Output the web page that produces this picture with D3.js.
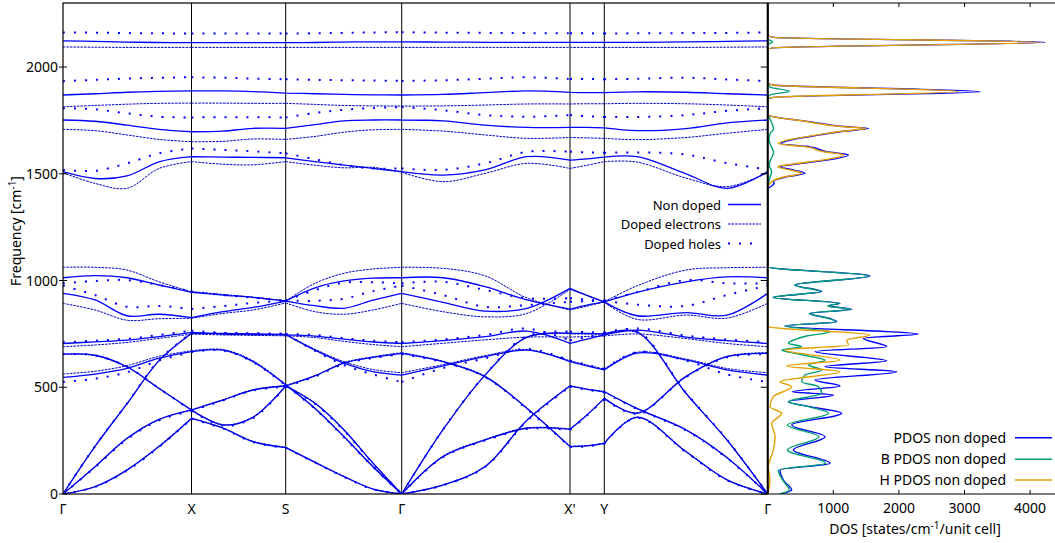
<!DOCTYPE html>
<html>
<head>
<meta charset="utf-8">
<script src="https://cdn.jsdelivr.net/npm/d3@7"></script>
<style>
  body { margin: 0; background: #fff; }
  text { font-family: "Noto Sans", "DejaVu Sans", sans-serif; fill: #000; }
</style>
</head>
<body>
<svg id="chart" width="1055" height="543"></svg>
<script>
// ---- k-path (path length units) and labels ----
const kPath = [0, 32, 64, 96, 128.5, 160, 190, 222.7, 252, 281, 310, 338.7,
               380, 422, 464, 507, 524, 541.3, 574, 623, 664, 704.7];
const symPoints = [0, 128.5, 222.7, 338.7, 507, 541.3, 704.7];
const symLabels = ["Γ", "X", "S", "Γ", "X'", "Y", "Γ"];
const segments = [[0, 4], [4, 7], [7, 11], [11, 15], [15, 17], [17, 21]];
const freqTicks = [0, 500, 1000, 1500, 2000];
const dosTicks = [1000, 2000, 3000, 4000];

// ---- phonon branches, frequency (cm-1) at each k-path sample ----
const nonDoped = [
  [0,34,112,222,354, 308,245,217, 148,81,23,0, 42,128,345,506, 490,479, 400,300,170,0],
  [0,128,261,350,393, 440,487,506, 425,300,144,0, 175,253,308,303, 370,448, 378,550,643,659],
  [0,223,423,625,753, 752,750,748, 674,613,573,557, 600,643,674,620, 600,581, 660,628,581,557],
  [546,562,589,636,667, 674,620,511, 401,268,128,0, 301,557,735,753, 752,750, 760,472,253,0],
  [655,650,596,495,393, 323,359,506, 553,613,640,659, 620,550,401,222, 225,237, 359,198,66,0],
  [705,713,721,737,757, 749,747,745, 740,725,712,705, 718,737,763,706, 725,745, 768,735,718,705],
  [1013,1023,1013,979,945, 932,921,904, 966,998,1011,1013, 1013,971,909,866, 885,900, 945,994,1017,1013],
  [940,909,835,842,826, 854,874,904, 882,870,908,940, 898,857,870,963, 930,900, 835,850,838,940],
  [1510,1478,1490,1556,1580, 1578,1577,1575, 1557,1541,1525,1510, 1494,1518,1580,1564, 1570,1578, 1580,1500,1432,1510],
  [1752,1746,1728,1708,1697, 1700,1713,1713, 1730,1748,1752,1752, 1748,1728,1717,1717, 1717,1715, 1702,1712,1738,1752],
  [1869,1875,1882,1886,1888, 1888,1885,1878, 1875,1872,1870,1869, 1872,1880,1888,1881, 1880,1880, 1884,1882,1875,1869],
  [2123,2120,2117,2115,2114, 2114,2114,2114, 2115,2117,2118,2118, 2117,2116,2116,2116, 2116,2116, 2116,2118,2120,2123]
];

const dopedElectrons = [
  [0,35,114,225,356, 310,247,219, 150,83,24,0, 43,130,348,508, 492,480, 402,302,172,0],
  [0,126,258,348,395, 442,489,508, 427,302,146,0, 177,255,310,305, 372,450, 380,552,645,662],
  [0,222,421,623,751, 751,749,746, 678,620,583,568, 606,648,677,624, 604,585, 664,632,588,568],
  [562,575,601,645,671, 677,624,514, 403,270,130,0, 300,555,733,750, 749,748, 756,470,252,0],
  [655,648,594,493,395, 325,361,508, 555,616,643,662, 622,552,403,224, 227,239, 361,200,67,0],
  [690,698,710,729,749, 745,743,741, 733,715,700,690, 706,722,735,735, 738,740, 750,728,705,690],
  [1062,1062,1049,994,948, 935,922,904, 987,1034,1054,1062, 1057,1022,918,862, 880,900, 975,1049,1060,1062],
  [893,862,814,821,823, 846,862,895, 854,842,862,893, 854,830,846,958, 930,898, 818,838,824,893],
  [1505,1455,1432,1525,1557, 1545,1542,1557, 1540,1528,1530,1507, 1463,1502,1549,1525, 1540,1557, 1555,1480,1440,1505],
  [1708,1702,1682,1661,1650, 1652,1663,1661, 1675,1695,1706,1708, 1700,1682,1666,1670, 1668,1666, 1660,1670,1690,1708],
  [1814,1820,1826,1830,1831, 1831,1830,1830, 1825,1820,1818,1817, 1818,1822,1827,1827, 1828,1828, 1830,1828,1822,1814],
  [2094,2093,2092,2092,2092, 2092,2092,2092, 2092,2092,2092,2092, 2092,2092,2092,2092, 2092,2092, 2092,2092,2093,2094]
];

const dopedHoles = [
  [0,33,110,220,352, 306,243,216, 147,80,22,0, 41,126,342,503, 488,477, 398,298,168,0],
  [0,125,256,345,390, 438,485,503, 422,297,142,0, 173,250,305,300, 368,445, 376,548,640,655],
  [0,224,424,627,755, 754,752,750, 670,604,560,525, 590,635,680,625, 605,585, 665,625,560,525],
  [525,540,570,625,665, 672,618,509, 399,266,126,0, 302,558,740,760, 758,755, 765,474,255,0],
  [655,650,596,495,390, 320,356,503, 550,610,637,655, 618,548,398,220, 223,235, 357,196,64,0],
  [711,718,727,745,765, 755,752,750, 745,730,718,711, 724,745,775,720, 735,752, 775,742,724,711],
  [987,998,1002,979,948, 932,920,906, 955,990,992,987, 994,956,917,917, 910,905, 945,1002,987,987],
  [976,932,877,881,867, 880,895,906, 905,915,950,976, 932,877,885,900, 903,905, 887,881,932,976],
  [1518,1514,1549,1596,1619, 1612,1605,1596, 1568,1541,1525,1525, 1518,1549,1603,1603, 1600,1598, 1600,1590,1550,1520],
  [1807,1802,1783,1767,1764, 1765,1765,1764, 1785,1800,1808,1812, 1798,1775,1767,1775, 1770,1766, 1766,1775,1795,1807],
  [1934,1940,1946,1950,1952, 1950,1946,1943, 1940,1938,1937,1935, 1938,1945,1952,1944, 1944,1943, 1945,1950,1942,1934],
  [2162,2161,2159,2158,2157, 2157,2157,2157, 2158,2160,2162,2163, 2161,2160,2159,2158, 2158,2157, 2158,2159,2160,2162]
];

// ---- projected DOS: [frequency, states/cm-1/unit cell] ----
const pdosTotal = [[2300,0],[2160,0],[2150,0],[2139,90],[2116,4227],[2090,90],[2083,0],[1935,0],[1927,0],[1916,90],[1884,3236],[1858,90],[1849,0],[1785,0],[1775,10],[1744,645],[1720,1204],[1713,1534],[1697,1102],[1682,797],[1661,391],[1642,198],[1626,645],[1603,899],[1588,1230],[1564,899],[1548,493],[1533,188],[1518,391],[1502,569],[1486,290],[1463,86],[1455,100],[1431,10],[1420,0],[1075,0],[1065,0],[1021,1559],[979,416],[948,823],[921,85],[893,1102],[881,925],[865,1281],[846,645],[822,950],[807,1052],[787,264],[749,2296],[729,1458],[690,1814],[667,721],[624,1814],[596,874],[573,1966],[534,721],[506,1102],[479,375],[464,1001],[432,315],[409,645],[378,1128],[323,366],[268,874],[206,391],[144,950],[112,188],[60,250],[19,366],[0,188]];

const pdosBoron = [[2300,0],[2140,0],[2132,0],[2118,76],[2104,0],[1930,0],[1926,0],[1905,40],[1887,330],[1870,40],[1853,0],[1780,0],[1760,30],[1740,60],[1710,90],[1690,40],[1660,20],[1630,50],[1600,90],[1570,50],[1540,20],[1510,60],[1480,30],[1450,10],[1430,0],[1075,0],[1065,0],[1021,1540],[979,410],[948,810],[921,80],[893,1090],[881,910],[865,1265],[846,630],[822,935],[807,1040],[787,260],[760,950],[740,594],[721,391],[706,315],[690,518],[674,213],[659,416],[646,620],[627,874],[604,620],[581,823],[557,569],[526,518],[503,772],[472,823],[432,315],[409,620],[378,930],[323,300],[268,780],[206,300],[144,880],[112,160],[60,240],[19,330],[0,180]];

const pdosHydrogen = [[2300,0],[2160,0],[2150,0],[2139,85],[2116,4195],[2090,85],[2083,0],[1935,0],[1927,0],[1916,80],[1886,2906],[1858,80],[1849,0],[1785,0],[1775,8],[1744,610],[1720,1170],[1713,1500],[1697,1060],[1682,760],[1661,350],[1642,160],[1626,590],[1603,850],[1588,1160],[1564,830],[1548,440],[1533,150],[1518,340],[1502,520],[1486,260],[1463,60],[1431,0],[790,0],[784,10],[745,1559],[721,1204],[698,1230],[674,264],[627,1102],[600,290],[573,1102],[526,188],[503,366],[456,86],[409,35],[378,213],[331,61],[268,112],[206,86],[128,10],[66,35],[0,0]];

// ---- layout ----
const svg = d3.select("#chart");
const bandLeft = 63, bandRight = 767.7, plotTop = 3, plotBottom = 494;

const x = d3.scaleLinear().domain([0, 704.7]).range([bandLeft, bandRight]);
const y = d3.scaleLinear().domain([0, 2300]).range([plotBottom, plotTop]);
const xDos = d3.scaleLinear().domain([0, 5000]).range([bandRight, bandRight + 328]);

const BLUE = "#0000ff", DARK_BLUE = "#0000c8", TEAL = "#009e73", ORANGE = "#e69f00";

const defs = svg.append("defs");
defs.append("clipPath").attr("id", "bandClip")
  .append("rect").attr("x", bandLeft).attr("y", plotTop)
  .attr("width", bandRight - bandLeft).attr("height", plotBottom - plotTop);
defs.append("clipPath").attr("id", "dosClip")
  .append("rect").attr("x", bandRight).attr("y", plotTop - 2)
  .attr("width", 400).attr("height", plotBottom - plotTop + 2);

// high-symmetry vertical lines
svg.append("g").selectAll("line")
  .data(symPoints.slice(1, -1)).join("line")
  .attr("x1", d => x(d)).attr("x2", d => x(d))
  .attr("y1", plotTop).attr("y2", plotBottom)
  .attr("stroke", "#000").attr("stroke-width", 1);

// band lines, each drawn segment by segment between symmetry points
const lineGen = d3.line()
  .x(d => x(d[0])).y(d => y(d[1]))
  .curve(d3.curveCatmullRom.alpha(0.5));
function branchPath(vals) {
  return segments.map(([a, b]) =>
    lineGen(d3.range(a, b + 1).map(i => [kPath[i], vals[i]]))).join("");
}

const seriesStyles = [
  { data: nonDoped, color: BLUE, width: 1.3, dash: null },
  { data: dopedElectrons, color: DARK_BLUE, width: 1, dash: "2.5,1" },
  { data: dopedHoles, color: BLUE, width: 2, dash: "2,9" }
];
const bandsG = svg.append("g").attr("clip-path", "url(#bandClip)");
seriesStyles.forEach(s => {
  bandsG.append("g").selectAll("path").data(s.data).join("path")
    .attr("d", branchPath)
    .attr("fill", "none")
    .attr("stroke", s.color)
    .attr("stroke-width", s.width)
    .attr("stroke-dasharray", s.dash);
});

// DOS curves
const dosLine = d3.line()
  .x(d => xDos(d[1])).y(d => y(d[0]))
  .curve(d3.curveMonotoneY);
const dosG = svg.append("g").attr("clip-path", "url(#dosClip)");
[[pdosTotal, BLUE], [pdosBoron, TEAL], [pdosHydrogen, ORANGE]].forEach(([d, c]) => {
  dosG.append("path").attr("d", dosLine(d))
    .attr("fill", "none").attr("stroke", c).attr("stroke-width", 1.4);
});

// frames
svg.append("rect")
  .attr("x", bandLeft).attr("y", plotTop)
  .attr("width", bandRight - bandLeft).attr("height", plotBottom - plotTop)
  .attr("fill", "none").attr("stroke", "#000").attr("stroke-width", 1.2);
svg.append("line").attr("x1", bandRight).attr("x2", 1060).attr("y1", plotTop).attr("y2", plotTop)
  .attr("stroke", "#000").attr("stroke-width", 1.2);
svg.append("line").attr("x1", bandRight).attr("x2", 1060).attr("y1", plotBottom).attr("y2", plotBottom)
  .attr("stroke", "#000").attr("stroke-width", 1.2);
svg.append("line").attr("x1", bandRight).attr("x2", bandRight).attr("y1", plotTop).attr("y2", plotBottom)
  .attr("stroke", "#000").attr("stroke-width", 2);

// frequency axis ticks (left, and mirrored on the band panel's right edge)
const yTickG = svg.append("g");
freqTicks.forEach(t => {
  yTickG.append("line").attr("x1", bandLeft - 4).attr("x2", bandLeft + 4)
    .attr("y1", y(t)).attr("y2", y(t)).attr("stroke", "#000");
  yTickG.append("line").attr("x1", bandRight - 7).attr("x2", bandRight)
    .attr("y1", y(t)).attr("y2", y(t)).attr("stroke", "#000");
  yTickG.append("text").attr("x", 58).attr("y", y(t) + 5)
    .attr("text-anchor", "end").attr("font-size", 14).text(t);
});

// k-path labels
svg.append("g").selectAll("text").data(symPoints).join("text")
  .attr("x", d => x(d)).attr("y", 514)
  .attr("text-anchor", "middle").attr("font-size", 14)
  .text((d, i) => symLabels[i]);

// DOS axis ticks and labels
dosTicks.forEach(t => {
  svg.append("line").attr("x1", xDos(t)).attr("x2", xDos(t))
    .attr("y1", plotBottom).attr("y2", plotBottom - 4).attr("stroke", "#000");
  svg.append("line").attr("x1", xDos(t)).attr("x2", xDos(t))
    .attr("y1", plotTop).attr("y2", plotTop + 4).attr("stroke", "#000");
  svg.append("text").attr("x", xDos(t)).attr("y", 513)
    .attr("text-anchor", "middle").attr("font-size", 14).text(t);
});

// axis titles
const yTitle = svg.append("text")
  .attr("transform", "translate(21,231) rotate(-90)")
  .attr("text-anchor", "middle").attr("font-size", 14);
yTitle.append("tspan").text("Frequency [cm");
yTitle.append("tspan").attr("dy", -5).attr("font-size", 10).text("-1");
yTitle.append("tspan").attr("dy", 5).text("]");

const xTitle = svg.append("text")
  .attr("x", 915).attr("y", 534)
  .attr("text-anchor", "middle").attr("font-size", 14);
xTitle.append("tspan").text("DOS [states/cm");
xTitle.append("tspan").attr("dy", -5).attr("font-size", 10).text("-1");
xTitle.append("tspan").attr("dy", 5).text("/unit cell]");

// band legend
const bandLegend = [
  { label: "Non doped", color: BLUE, width: 1.3, dash: null, y: 204.5 },
  { label: "Doped electrons", color: DARK_BLUE, width: 1, dash: "2.5,1", y: 224 },
  { label: "Doped holes", color: BLUE, width: 2, dash: "2,9", y: 243.5 }
];
bandLegend.forEach(l => {
  svg.append("text").attr("x", 721).attr("y", l.y + 5)
    .attr("text-anchor", "end").attr("font-size", 13).text(l.label);
  svg.append("line").attr("x1", 728).attr("x2", 761)
    .attr("y1", l.y).attr("y2", l.y)
    .attr("stroke", l.color).attr("stroke-width", l.width)
    .attr("stroke-dasharray", l.dash);
});

// DOS legend
const dosLegend = [
  { label: "PDOS non doped", color: BLUE, y: 437.7 },
  { label: "B PDOS non doped", color: TEAL, y: 459.3 },
  { label: "H PDOS non doped", color: ORANGE, y: 480 }
];
dosLegend.forEach(l => {
  svg.append("text").attr("x", 1006).attr("y", l.y + 5)
    .attr("text-anchor", "end").attr("font-size", 14).text(l.label);
  svg.append("line").attr("x1", 1015).attr("x2", 1052)
    .attr("y1", l.y).attr("y2", l.y)
    .attr("stroke", l.color).attr("stroke-width", 1.4);
});
</script>
</body>
</html>
